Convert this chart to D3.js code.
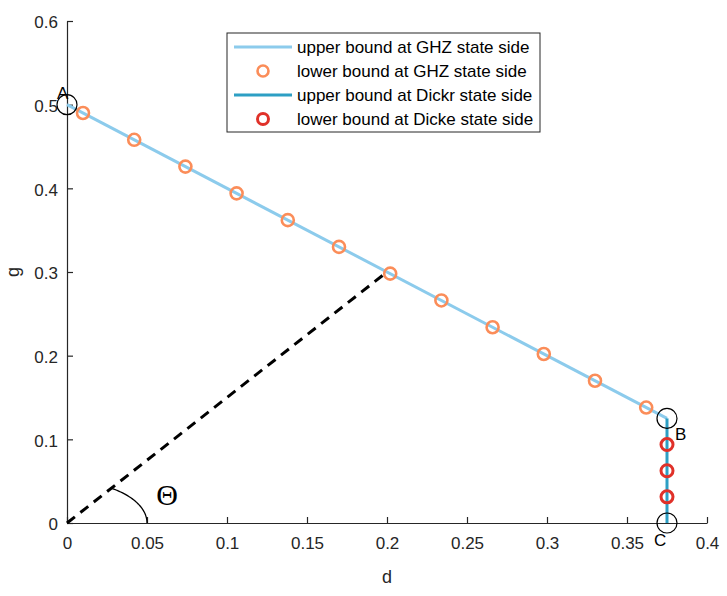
<!DOCTYPE html>
<html>
<head>
<meta charset="utf-8">
<script src="https://cdn.jsdelivr.net/npm/d3@7"></script>
<style>
  body { margin: 0; background: #fff; }
  text { font-family: "Liberation Sans", Arial, sans-serif; }
</style>
</head>
<body>
<div id="chart"></div>
<script>
// data
var ghzUpperD = [0, 0.375];
var ghzUpperG = [0.5, 0.125];
var ghzLowerD = [0.010, 0.042, 0.074, 0.106, 0.138, 0.170, 0.202, 0.234, 0.266, 0.298, 0.330, 0.362];
var ghzLowerG = [0.490, 0.458, 0.426, 0.394, 0.362, 0.330, 0.298, 0.266, 0.234, 0.202, 0.170, 0.138];
var dickeUpperD = [0.375, 0.375];
var dickeUpperG = [0.125, 0];
var dickeLowerD = [0.375, 0.375, 0.375];
var dickeLowerG = [0.09375, 0.0625, 0.03125];
var thetaLineD = [0, 0.2];
var thetaLineG = [0, 0.3];
var pointNames = ["A", "B", "C"];
var pointD = [0, 0.375, 0.375];
var pointG = [0.5, 0.125, 0];
var xTicks = [0, 0.05, 0.1, 0.15, 0.2, 0.25, 0.3, 0.35, 0.4];
var yTicks = [0, 0.1, 0.2, 0.3, 0.4, 0.5, 0.6];
var legendNames = ["upper bound at GHZ state side", "lower bound at GHZ state side",
                   "upper bound at Dickr state side", "lower bound at Dicke state side"];

var w = 727, h = 596;
var lightBlue = "#8ccbec", orange = "#fb8d59", teal = "#2d9fc4", red = "#e03129";
var ink = "#262626";

var x = d3.scaleLinear().domain([0, 0.4]).range([67, 707]);
var y = d3.scaleLinear().domain([0, 0.6]).range([523, 21]);

var svg = d3.select("#chart").append("svg")
    .attr("width", w)
    .attr("height", h);

var zip = function(a, b) { return a.map(function(v, i) { return [v, b[i]]; }); };
var line = d3.line().x(function(d) { return x(d[0]); }).y(function(d) { return y(d[1]); });

// axes (left + bottom only, ticks inward)
var xAxis = svg.append("g")
    .attr("transform", "translate(0," + y(0) + ")")
    .call(d3.axisBottom(x).tickValues(xTicks).tickSizeInner(-6).tickSizeOuter(0)
        .tickFormat(function(d) { return d3.format("")(d); }));
var yAxis = svg.append("g")
    .attr("transform", "translate(" + x(0) + ",0)")
    .call(d3.axisLeft(y).tickValues(yTicks).tickSizeInner(-6).tickSizeOuter(0)
        .tickFormat(function(d) { return d3.format("")(d); }));

[xAxis, yAxis].forEach(function(a) {
  a.select(".domain").attr("stroke", ink).attr("stroke-width", 1.2);
  a.selectAll(".tick line").attr("stroke", ink).attr("stroke-width", 1.2);
  a.selectAll(".tick text").attr("fill", ink).style("font-size", "17px")
      .style("font-family", "Liberation Sans, Arial, sans-serif");
});
xAxis.selectAll(".tick text").attr("y", 14).attr("dy", "0.71em");
yAxis.selectAll(".tick text").attr("x", -9).attr("dy", "0.4em");

svg.append("text")
    .attr("x", x(0.2)).attr("y", 583)
    .attr("text-anchor", "middle")
    .attr("fill", ink)
    .style("font-size", "18px")
    .text("d");
svg.append("text")
    .attr("transform", "translate(19," + y(0.3) + ") rotate(-90)")
    .attr("text-anchor", "middle")
    .attr("fill", ink)
    .style("font-size", "18px")
    .text("g");

// GHZ upper bound
svg.append("path")
    .datum(zip(ghzUpperD, ghzUpperG))
    .attr("d", line)
    .attr("fill", "none")
    .attr("stroke", lightBlue)
    .attr("stroke-width", 3);

// GHZ lower bound
svg.selectAll("circle.ghz")
    .data(zip(ghzLowerD, ghzLowerG))
    .enter()
    .append("circle")
    .attr("class", "ghz")
    .attr("cx", function(d) { return x(d[0]); })
    .attr("cy", function(d) { return y(d[1]); })
    .attr("r", 6)
    .attr("fill", "none")
    .attr("stroke", orange)
    .attr("stroke-width", 2.6);

// Dicke upper bound
svg.append("path")
    .datum(zip(dickeUpperD, dickeUpperG))
    .attr("d", line)
    .attr("fill", "none")
    .attr("stroke", teal)
    .attr("stroke-width", 3);

// Dicke lower bound
svg.selectAll("circle.dicke")
    .data(zip(dickeLowerD, dickeLowerG))
    .enter()
    .append("circle")
    .attr("class", "dicke")
    .attr("cx", function(d) { return x(d[0]); })
    .attr("cy", function(d) { return y(d[1]); })
    .attr("r", 6)
    .attr("fill", "none")
    .attr("stroke", red)
    .attr("stroke-width", 3);

// dashed line to (0.2, 0.3)
svg.append("path")
    .datum(zip(thetaLineD, thetaLineG))
    .attr("d", line)
    .attr("fill", "none")
    .attr("stroke", "#000")
    .attr("stroke-width", 3)
    .attr("stroke-dasharray", "10,7");

// angle arc, radius 0.05 in data units
var endAngle = Math.atan2(thetaLineG[1], thetaLineD[1]);
var arcPts = d3.range(0, 41).map(function(i) {
  var a = endAngle * i / 40;
  return [0.05 * Math.cos(a), 0.05 * Math.sin(a)];
});
svg.append("path")
    .datum(arcPts)
    .attr("d", line)
    .attr("fill", "none")
    .attr("stroke", "#000")
    .attr("stroke-width", 1.3);
svg.append("text")
    .attr("x", 167).attr("y", 505)
    .attr("text-anchor", "middle")
    .attr("fill", "#000")
    .style("font-family", "Liberation Serif, Times New Roman, serif")
    .style("font-size", "30px")
    .text("\u0398");

// corner points A, B, C
svg.selectAll("circle.pt")
    .data(pointNames)
    .enter()
    .append("circle")
    .attr("class", "pt")
    .attr("cx", function(d, i) { return x(pointD[i]); })
    .attr("cy", function(d, i) { return y(pointG[i]); })
    .attr("r", 10)
    .attr("fill", "none")
    .attr("stroke", "#000")
    .attr("stroke-width", 1.2);
var labelOffset = [[-10, -6], [8, 22], [-13, 23]];
svg.selectAll("text.pt")
    .data(pointNames)
    .enter()
    .append("text")
    .attr("class", "pt")
    .attr("x", function(d, i) { return x(pointD[i]) + labelOffset[i][0]; })
    .attr("y", function(d, i) { return y(pointG[i]) + labelOffset[i][1]; })
    .attr("fill", "#000")
    .style("font-size", "17px")
    .text(function(d) { return d; });

// legend
var lg = svg.append("g").attr("transform", "translate(227,33)");
lg.append("rect")
    .attr("x", 0).attr("y", 0)
    .attr("width", 313).attr("height", 99)
    .attr("fill", "#fff")
    .attr("stroke", ink)
    .attr("stroke-width", 1);
var styles = [
  { type: "line", color: lightBlue },
  { type: "dot", color: orange, sw: 2.6 },
  { type: "line", color: teal },
  { type: "dot", color: red, sw: 3 }
];
var rows = lg.selectAll("g.row")
    .data(legendNames)
    .enter()
    .append("g")
    .attr("class", "row")
    .attr("transform", function(d, i) { return "translate(0," + (14 + i * 24) + ")"; });
rows.each(function(d, i) {
  var g = d3.select(this), s = styles[i];
  if (s.type === "line") {
    g.append("line").attr("x1", 7).attr("x2", 65).attr("y1", 0).attr("y2", 0)
        .attr("stroke", s.color).attr("stroke-width", 3);
  } else {
    g.append("circle").attr("cx", 36).attr("cy", 0).attr("r", 5.5)
        .attr("fill", "none").attr("stroke", s.color).attr("stroke-width", s.sw);
  }
});
rows.append("text")
    .attr("x", 70)
    .attr("y", 0)
    .attr("dy", "0.36em")
    .attr("fill", "#000")
    .style("font-size", "17px")
    .text(function(d) { return d; });
</script>
</body>
</html>
